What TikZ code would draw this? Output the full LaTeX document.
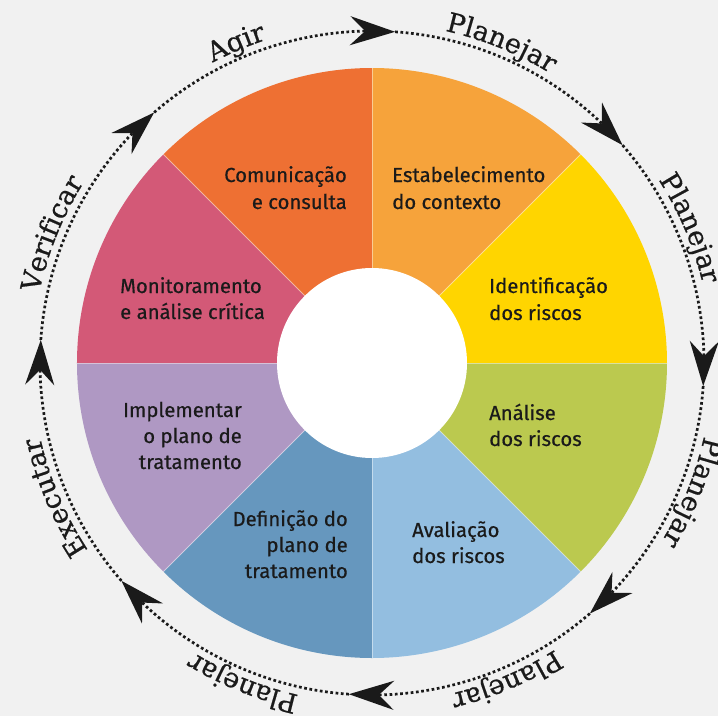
\documentclass[tikz,border=0pt]{standalone}
\usepackage{fontspec}
\newfontfamily\secfont{Fira Sans}[FakeBold=0.5]
\newfontfamily\arcfont{DejaVu Serif}[FakeBold=0.6]
\usetikzlibrary{arrows.meta,bending,decorations.text}
\definecolor{bgc}{RGB}{241,241,241}
\definecolor{txt}{RGB}{26,26,26}
\definecolor{cCom}{RGB}{238,112,51}
\definecolor{cEst}{RGB}{246,163,59}
\definecolor{cIde}{RGB}{255,213,0}
\definecolor{cAna}{RGB}{187,201,79}
\definecolor{cAva}{RGB}{147,190,224}
\definecolor{cDef}{RGB}{102,151,190}
\definecolor{cImp}{RGB}{175,152,195}
\definecolor{cMon}{RGB}{211,89,119}
\tikzset{
  seclabel/.style={font=\secfont\fontsize{20.3}{24}\selectfont, text=txt, inner sep=0pt},
  lw/.style={seclabel, anchor=base west},
  le/.style={seclabel, anchor=base east},
  cycleline/.style={line width=2.7pt, dash pattern=on 2.7pt off 2.6pt, txt,
    -{Stealth[length=45pt,width=29pt,inset=15pt]}},
  sepline/.style={white, opacity=0.45, line width=0.8pt},
  arclabel/.style={decorate, decoration={text along path,
    text={|\arcfont\fontsize{27}{32}\selectfont\color{txt}|#1}, text align=center}}
}
\begin{document}
\begin{tikzpicture}[x=1pt,y=1pt]
\fill[bgc] (-372,-353) rectangle (346,363);
\useasboundingbox (-372,-353) rectangle (346,363);
% sectors
\foreach \a/\c in {45/cEst, 0/cIde, -45/cAna, -90/cAva, -135/cDef, 180/cImp, 135/cMon, 90/cCom}
  \fill[\c] (0,0) -- (\a:295) arc[start angle=\a, end angle={\a+45}, radius=295] -- cycle;
\foreach \a in {0,45,...,315}
  \draw[sepline] (\a:95) -- (\a:295);
\node[circle, fill=white, minimum size=190pt, inner sep=0pt] (hub) at (0,0) {};
% cycle arrows
\foreach \a in {86,41,-4,-49,-94,-139,176,131}
  \draw[cycleline] ({\a+45}:332) arc[start angle={\a+45}, end angle=\a, radius=332];
% outer labels
\path[arclabel=Planejar] (108:340) arc[start angle=108, end angle=28, radius=340];
\path[arclabel=Planejar] (63:340) arc[start angle=63, end angle=-17, radius=340];
\path[arclabel=Planejar] (18:340) arc[start angle=18, end angle=-62, radius=340];
\path[arclabel=Planejar] (-27:340) arc[start angle=-27, end angle=-107, radius=340];
\path[arclabel=Planejar] (-72:340) arc[start angle=-72, end angle=-152, radius=340];
\path[arclabel=Executar] (-117:340) arc[start angle=-117, end angle=-197, radius=340];
\path[arclabel=Verificar] (198:340) arc[start angle=198, end angle=118, radius=340];
\path[arclabel=Agir] (153:340) arc[start angle=153, end angle=73, radius=340];
% sector texts
\node[le] (com1) at (-25,181) {Comunicação};
\node[le] (com2) at (-25,154) {e consulta};
\node[lw] (est1) at (20,181) {Estabelecimento};
\node[lw] (est2) at (20,154) {do contexto};
\node[lw] (ide1) at (117,70) {Identificação};
\node[lw] (ide2) at (117,43) {dos riscos};
\node[lw] (ana1) at (117,-57) {Análise};
\node[lw] (ana2) at (117,-83) {dos riscos};
\node[lw] (ava1) at (40,-174) {Avaliação};
\node[lw] (ava2) at (40,-200) {dos riscos};
\node[le] (def1) at (-24,-163) {Definição do};
\node[le] (def2) at (-24,-189) {plano de};
\node[le] (def3) at (-24,-215) {tratamento};
\node[le] (imp1) at (-130,-54) {Implementar};
\node[le] (imp2) at (-130,-80) {o plano de};
\node[le] (imp3) at (-130,-106) {tratamento};
\node[lw] (mon1) at (-252,70) {Monitoramento};
\node[lw] (mon2) at (-252,44) {e análise crítica};
\end{tikzpicture}
\end{document}
